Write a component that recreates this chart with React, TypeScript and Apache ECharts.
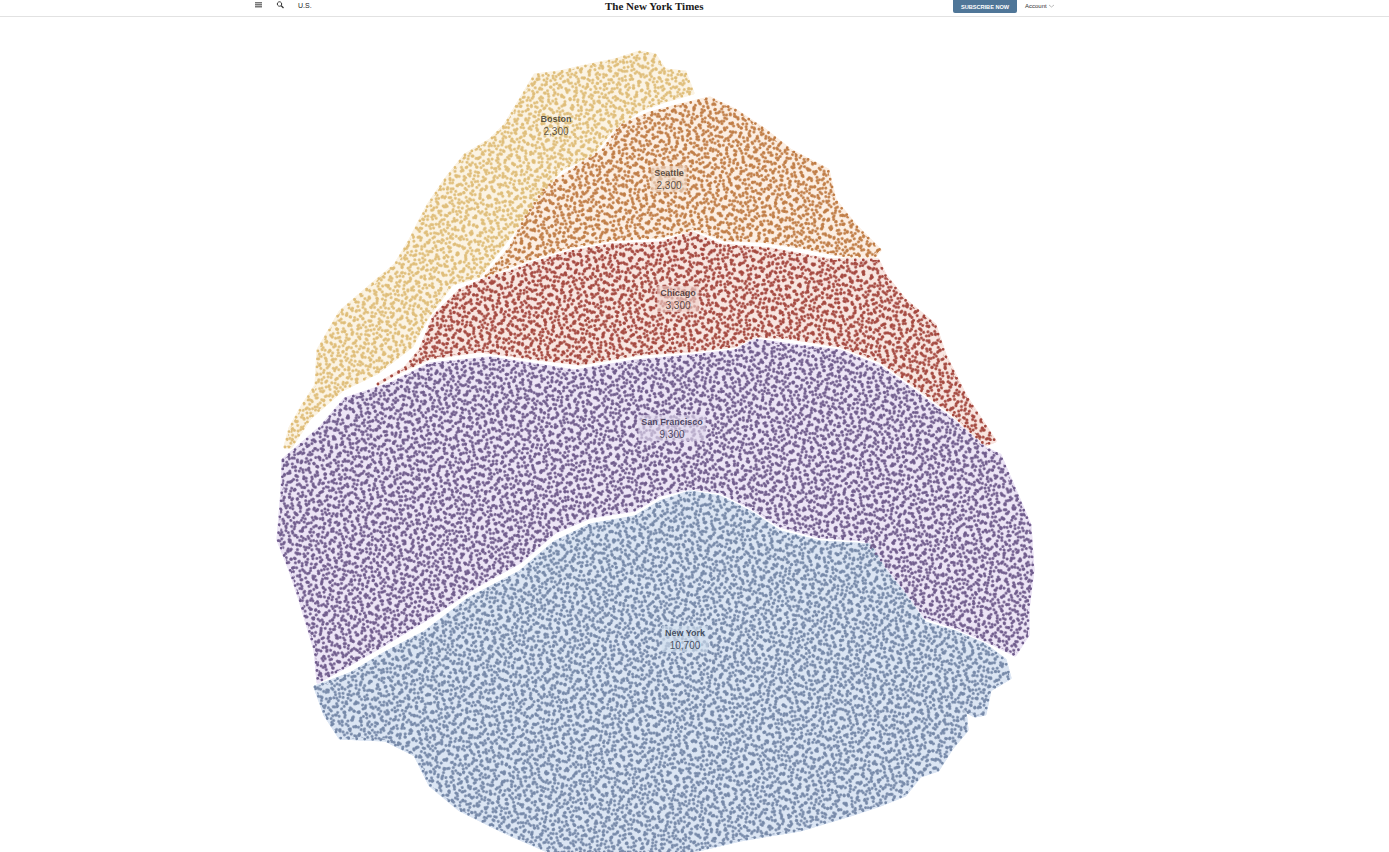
import React, { useEffect, useRef } from "react";
import * as echarts from "echarts";

const cities = ["Boston", "Seattle", "Chicago", "San Francisco", "New York"];
const counts = ["2,300", "2,300", "3,300", "9,300", "10,700"];

const bostonOutline = [[285,447],[290,428],[303,405],[316,385],[318,350],[340,312],[362,293],[395,265],[410,240],[428,205],[445,180],[465,155],[490,140],[505,125],[520,100],[535,75],[560,72],[590,65],[615,60],[640,52],[655,55],[665,70],[685,72],[693,93],[665,101],[640,110],[612,130],[592,155],[560,170],[533,205],[513,232],[490,262],[480,276],[452,284],[427,318],[412,346],[377,373],[342,390],[310,418],[291,447]];
const seattleOutline = [[486,276],[510,248],[525,218],[545,188],[575,168],[603,150],[620,126],[650,113],[680,105],[710,98],[735,110],[765,130],[790,150],[828,170],[835,200],[855,225],[880,250],[875,256],[845,256],[800,247],[760,241],[725,240],[695,229],[660,237],[610,240],[570,247],[530,259],[500,270]];
const chicagoOutline = [[378,384],[405,368],[420,350],[434,316],[460,290],[485,279],[510,272],[530,264],[570,252],[610,245],[660,243],[692,233],[720,245],[770,249],[830,260],[878,260],[885,275],[905,300],[935,325],[945,355],[965,395],[995,441],[985,445],[950,412],[915,386],[880,361],[840,346],[790,338],[755,336],[735,346],[690,351],[640,354],[580,364],[530,358],[480,351],[430,358],[395,374]];
const sanFranciscoOutline = [[283,460],[320,428],[345,399],[390,384],[430,364],[490,358],[530,364],[575,371],[635,361],[690,356],[735,351],[755,340],[790,345],[840,351],[880,367],[915,392],[950,418],[985,448],[1000,455],[1015,490],[1030,525],[1033,570],[1028,610],[1028,635],[1015,655],[985,640],[955,627],[925,617],[905,590],[885,565],[865,540],[820,537],[780,526],[750,507],[720,492],[690,488],[660,495],[635,510],[590,517],[555,532],[520,562],[475,587],[430,617],[380,647],[345,667],[318,682],[315,650],[300,600],[290,570],[278,540],[282,490]];
const newYorkOutline = [[315,687],[350,674],[385,653],[425,632],[470,598],[520,572],[555,542],[590,525],[635,517],[660,502],[690,492],[720,497],[750,512],[780,532],[820,542],[870,545],[885,570],[905,595],[925,623],[955,632],[985,645],[1005,660],[1010,678],[990,690],[985,714],[975,716],[965,711],[967,730],[952,748],[938,770],[920,776],[905,795],[880,805],[850,815],[800,830],[740,840],[690,852],[550,852],[500,830],[460,810],[430,785],[415,755],[385,740],[340,738],[325,715]];
const outlines = [bostonOutline, seattleOutline, chicagoOutline, sanFranciscoOutline, newYorkOutline];

const labelPoints = [[556,125],[669,179],[678,299],[672,428],[685,639]];

const dotColors = ["#dfbd78", "#c07c45", "#a4473e", "#6f5b8c", "#7588a8"];
const paleColors = ["#fbf3e3", "#fceee2", "#f8e5e0", "#ece4f5", "#dbe5f3"];
const labelBacks = ["rgba(0,0,0,0)", "rgba(240,218,200,0.8)", "rgba(240,210,204,0.8)", "rgba(226,218,238,0.8)", "rgba(208,222,238,0.8)"];
const textColors = ["#332f25", "#332a22", "#332222", "#2a2440", "#1f2b40"];

const dotLayers = [
  { rotation: 0.35, dashArrayX: [[3, 5], [0, 4, 3, 1]], dashArrayY: [3, 5] },
  { rotation: 1.2, dashArrayX: [[3, 6], [0, 4, 3, 2]], dashArrayY: [3, 4] },
  { rotation: -0.65, dashArrayX: [[3, 4], [0, 3, 3, 1]], dashArrayY: [3, 6] },
  { rotation: 0.8, dashArrayX: [[3, 7], [0, 5, 3, 2]], dashArrayY: [3, 5] },
  { rotation: -1.35, dashArrayX: [[3, 6], [0, 3, 3, 3]], dashArrayY: [3, 7] },
];

export default function App() {
  const ref = useRef<HTMLDivElement>(null);
  useEffect(() => {
    document.body.style.margin = "0";
    const chart = echarts.init(ref.current!, undefined, { renderer: "svg" });
    const font = "'Liberation Sans', Arial, sans-serif";
    const regionSeries = dotLayers.map((layer, layerIndex) => ({
      type: "custom",
      coordinateSystem: "cartesian2d",
      silent: true,
      clip: true,
      data: cities.map((c, i) => [i]),
      renderItem: (params: any, api: any) => {
        const i = params.dataIndex;
        return {
          type: "polygon",
          shape: { points: outlines[i].map((p) => api.coord(p)) },
          style: {
            fill: layerIndex === 0 ? paleColors[i] : "rgba(0,0,0,0)",
            stroke: layerIndex === 0 ? paleColors[i] : "rgba(0,0,0,0)",
            lineWidth: 3,
            lineJoin: "round",
            decal: { symbol: "circle", symbolSize: 1, color: dotColors[i], backgroundColor: "rgba(0,0,0,0)", ...layer },
          },
        };
      },
    }));
    const edgeSeries = {
      type: "custom",
      coordinateSystem: "cartesian2d",
      silent: true,
      clip: true,
      data: cities.map((c, i) => [i]),
      renderItem: (params: any, api: any) => {
        const i = params.dataIndex;
        return {
          type: "polygon",
          shape: { points: outlines[i].map((p) => api.coord(p)) },
          style: { fill: "rgba(0,0,0,0)", stroke: dotColors[i], lineWidth: 2.8, lineCap: "round", lineDash: [0, 8] },
        };
      },
    };
    chart.setOption({
      animation: false,
      backgroundColor: "#ffffff",
      grid: { left: 0, top: 0, right: 0, bottom: 0 },
      xAxis: { type: "value", min: 0, max: 1389, show: false },
      yAxis: { type: "value", min: 0, max: 852, inverse: true, show: false },
      series: [
        ...regionSeries,
        edgeSeries,
        {
          type: "scatter",
          symbolSize: 0,
          silent: true,
          data: labelPoints.map((p, i) => ({
            value: p,
            label: {
              show: true,
              position: "inside",
              formatter: `{n|${cities[i]}}\n{v|${counts[i]}}`,
              backgroundColor: labelBacks[i],
              padding: [1, 3],
              borderRadius: 1,
              color: textColors[i],
              rich: {
                n: { fontFamily: font, fontSize: 9, fontWeight: "bold", lineHeight: 12, color: textColors[i], align: "center" },
                v: { fontFamily: font, fontSize: 10, lineHeight: 12, color: textColors[i], align: "center" },
              },
            },
          })),
        },
      ],
      graphic: [
        { type: "rect", shape: { x: 0, y: 16, width: 1389, height: 1 }, style: { fill: "#e2e2e2" } },
        { type: "rect", shape: { x: 255, y: 2, width: 7, height: 1.5 }, style: { fill: "#777" } },
        { type: "rect", shape: { x: 255, y: 4, width: 7, height: 1.5 }, style: { fill: "#777" } },
        { type: "rect", shape: { x: 255, y: 6, width: 7, height: 1.5 }, style: { fill: "#777" } },
        { type: "circle", shape: { cx: 279.5, cy: 4, r: 2.2 }, style: { fill: "none", stroke: "#333", lineWidth: 1 } },
        { type: "line", shape: { x1: 281, y1: 5.5, x2: 283.5, y2: 8 }, style: { stroke: "#333", lineWidth: 1.2 } },
        { type: "text", x: 298, y: 2, style: { text: "U.S.", fontFamily: font, fontSize: 7, fill: "#222" } },
        { type: "text", x: 605, y: 0, style: { text: "The New York Times", fontFamily: "'Liberation Serif', serif", fontWeight: "bold", fontSize: 11, fill: "#1a1a1a" } },
        { type: "rect", shape: { x: 953, y: 0, width: 64, height: 13, r: [0, 0, 2, 2] }, style: { fill: "#4f7698" } },
        { type: "text", x: 985, y: 3.5, style: { text: "SUBSCRIBE NOW", fontFamily: font, fontWeight: "bold", fontSize: 5.6, fill: "#ffffff", align: "center" } },
        { type: "text", x: 1025, y: 3, style: { text: "Account", fontFamily: font, fontSize: 6, fill: "#333" } },
        { type: "polyline", shape: { points: [[1049, 5], [1051.5, 7], [1054, 5]] }, style: { fill: "none", stroke: "#aaa", lineWidth: 0.8 } },
      ],
    });
    return () => chart.dispose();
  }, []);
  return <div ref={ref} style={{ width: 1389, height: 852 }} />;
}
